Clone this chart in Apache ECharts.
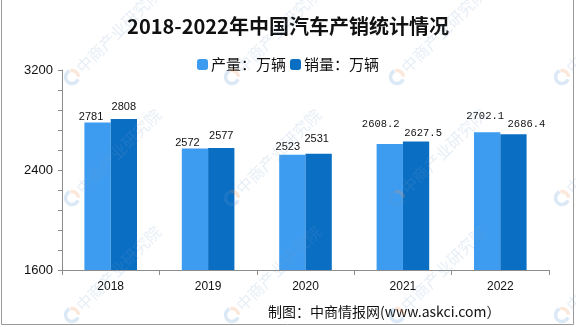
<!DOCTYPE html>
<html>
<head>
<meta charset="utf-8">
<script src="https://cdn.jsdelivr.net/npm/echarts@6/dist/echarts.min.js"></script>
<style>
  html, body { margin: 0; padding: 0; background: #fff; }
  #chart { width: 576px; height: 327px; }
</style>
</head>
<body>
<div id="chart"></div>
<script>
// China vehicle production and sales, 2018-2022 (10k units)
const years = ['2018', '2019', '2020', '2021', '2022'];
const production = [2781, 2572, 2523, 2608.2, 2702.1];
const sales = [2808, 2577, 2531, 2627.5, 2686.4];
const yMin = 1600, yMax = 3200, yStep = 800;

// Hand-placed value label nudges [dx, dy] and fonts
const prodLabelShift = [[-6.5, 0], [-7.5, 0], [-4.5, -2], [-9, -14.5], [-2, -10.5]];
const salesLabelShift = [[0, -6.5], [0, -6.5], [-2, -9.5], [7, -3], [13, -4.5]];
const SANS = 'Liberation Sans';
const MONO = 'Liberation Mono';
const labelFonts = [SANS, SANS, SANS, MONO, MONO];

const LIGHT = '#3d9cef';
const DARK = '#0a6ec3';
const AXIS = '#8c8c8c';

function withLabels(values, shifts) {
  return values.map((v, i) => ({
    value: v,
    label: {
      offset: shifts[i],
      fontFamily: labelFonts[i],
      fontSize: labelFonts[i] === MONO ? 10.5 : 11
    }
  }));
}

// Brand watermark tiles: ring logo followed by a diagonal caption
const wmCols = [-93, 72, 232, 397, 562];
const wmRows = [77, 198, 315];
function watermark() {
  const els = [];
  wmRows.forEach(cy => {
    wmCols.forEach(cx => {
      els.push({
        type: 'arc', silent: true, z: 100,
        shape: { cx: cx, cy: cy, r: 6.5, startAngle: -Math.PI * 0.58, endAngle: -Math.PI * 0.02, clockwise: true },
        style: { stroke: 'rgba(240,150,90,0.22)', lineWidth: 3.5, fill: null }
      });
      els.push({
        type: 'arc', silent: true, z: 100,
        shape: { cx: cx, cy: cy, r: 6.5, startAngle: Math.PI * 0.12, endAngle: Math.PI * 1.38, clockwise: true },
        style: { stroke: 'rgba(90,150,210,0.22)', lineWidth: 3.5, fill: null }
      });
      els.push({
        type: 'text', silent: true, z: 100,
        x: cx + 7, y: cy - 7, rotation: Math.PI / 4,
        style: {
          text: '中商产业研究院',
          font: '16px "Noto Sans CJK SC"',
          fill: 'rgba(120,160,205,0.18)',
          textVerticalAlign: 'middle'
        }
      });
    });
  });
  return els;
}

const chart = echarts.init(document.getElementById('chart'), null, { renderer: 'canvas' });

chart.setOption({
  backgroundColor: '#fff',
  animation: false,
  title: {
    text: '2018-2022年中国汽车产销统计情况',
    left: 'center',
    top: 11,
    textStyle: { fontFamily: 'Noto Sans CJK SC', fontWeight: 'bold', fontSize: 20, color: '#111' }
  },
  legend: {
    top: 52,
    left: 'center',
    itemWidth: 11,
    itemHeight: 11,
    itemGap: 4,
    icon: 'roundRect',
    textStyle: { fontFamily: 'Noto Sans CJK SC', fontSize: 15, color: '#111', padding: [0, 0, 0, -2] },
    data: ['产量：万辆', '销量：万辆']
  },
  grid: { left: 62, right: 27, top: 70, bottom: 57, containLabel: false },
  xAxis: {
    type: 'category',
    data: years,
    axisLine: { show: true, lineStyle: { color: AXIS, width: 1 } },
    axisTick: { show: true, alignWithLabel: false, length: 5, lineStyle: { color: AXIS } },
    axisLabel: { margin: 11, fontFamily: SANS, fontSize: 12, color: '#111' },
    splitLine: { show: false }
  },
  yAxis: {
    type: 'value',
    min: yMin,
    max: yMax,
    interval: yStep,
    axisLine: { show: true, lineStyle: { color: AXIS, width: 1 } },
    axisTick: { show: true, length: 4, lineStyle: { color: AXIS } },
    minorTick: { show: true, splitNumber: 5, length: 4, lineStyle: { color: AXIS } },
    axisLabel: { margin: 9, fontFamily: SANS, fontSize: 13, color: '#111', formatter: v => String(v) },
    splitLine: { show: false },
    minorSplitLine: { show: false }
  },
  series: [
    {
      name: '产量：万辆',
      type: 'bar',
      data: withLabels(production, prodLabelShift),
      itemStyle: { color: LIGHT },
      barGap: '0%',
      barCategoryGap: '46%',
      label: { show: true, position: 'top', distance: 0, color: '#111' }
    },
    {
      name: '销量：万辆',
      type: 'bar',
      data: withLabels(sales, salesLabelShift),
      itemStyle: { color: DARK },
      barGap: '0%',
      barCategoryGap: '46%',
      label: { show: true, position: 'top', distance: 0, color: '#111' }
    }
  ],
  graphic: [
    {
      type: 'text', silent: true, z: 50,
      left: 268, top: 305,
      style: {
        text: '制图：中商情报网(www.askci.com）',
        font: '14px "Noto Sans CJK SC"',
        fill: '#111'
      }
    },
    {
      type: 'rect', silent: true, z: 120,
      shape: { x: 1.5, y: -1, width: 572, height: 325.5 },
      style: { stroke: '#9a9a9a', lineWidth: 1, fill: null }
    }
  ].concat(watermark())
});
</script>
</body>
</html>
